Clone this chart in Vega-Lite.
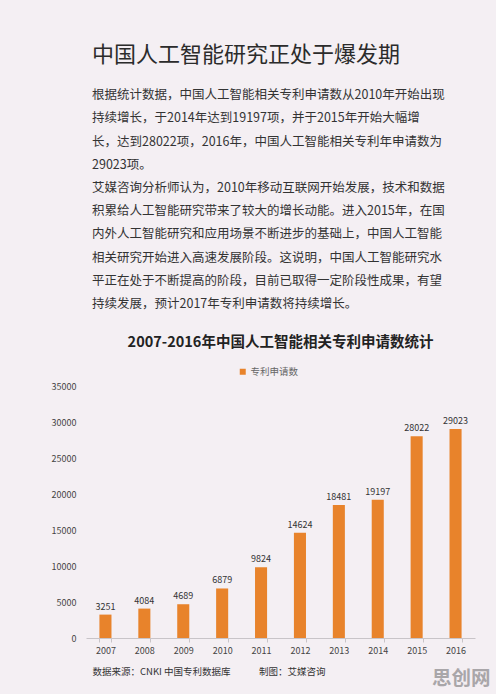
{
  "$schema": "https://vega.github.io/schema/vega-lite/v6.json",
  "background": "#f4eff3",
  "padding": {"left": 51, "top": 44, "right": 6, "bottom": 8},
  "config": {
    "font": "Noto Sans CJK SC",
    "view": {"stroke": null}
  },
  "title": {
    "text": "中国人工智能研究正处于爆发期",
    "subtitle": [
      "根据统计数据，中国人工智能相关专利申请数从2010年开始出现",
      "持续增长，于2014年达到19197项，并于2015年开始大幅增",
      "长，达到28022项，2016年，中国人工智能相关专利年申请数为",
      "29023项。",
      "艾媒咨询分析师认为，2010年移动互联网开始发展，技术和数据",
      "积累给人工智能研究带来了较大的增长动能。进入2015年，在国",
      "内外人工智能研究和应用场景不断进步的基础上，中国人工智能",
      "相关研究开始进入高速发展阶段。这说明，中国人工智能研究水",
      "平正在处于不断提高的阶段，目前已取得一定阶段性成果，有望",
      "持续发展，预计2017年专利申请数将持续增长。"
    ],
    "anchor": "start",
    "frame": "bounds",
    "dx": 41,
    "font": "Noto Sans CJK SC",
    "fontSize": 22,
    "fontWeight": "normal",
    "color": "#2b2b2b",
    "subtitleFont": "Noto Sans CJK SC",
    "subtitleFontSize": 12.5,
    "subtitleColor": "#333333",
    "subtitleLineHeight": 23.2,
    "subtitlePadding": 22,
    "offset": 23
  },
  "vconcat": [
    {
      "title": {
        "text": "思创网",
        "orient": "bottom",
        "anchor": "start",
        "frame": "bounds",
        "dx": 381,
        "offset": -6,
        "font": "Noto Sans CJK SC",
        "fontSize": 19.5,
        "fontWeight": "bold",
        "color": "#a9a6a9"
      },
      "vconcat": [
        {
          "title": {
            "text": "2007-2016年中国人工智能相关专利申请数统计",
            "font": "Noto Sans CJK SC",
            "fontSize": 14.5,
            "fontWeight": "bold",
            "color": "#222222",
            "anchor": "middle",
            "offset": 32
          },
          "width": 389,
          "height": 252,
          "data": {
            "values": [
              {"year": "2007", "count": 3251},
              {"year": "2008", "count": 4084},
              {"year": "2009", "count": 4689},
              {"year": "2010", "count": 6879},
              {"year": "2011", "count": 9824},
              {"year": "2012", "count": 14624},
              {"year": "2013", "count": 18481},
              {"year": "2014", "count": 19197},
              {"year": "2015", "count": 28022},
              {"year": "2016", "count": 29023}
            ]
          },
          "encoding": {
            "x": {
              "field": "year",
              "type": "ordinal",
              "scale": {"paddingInner": 0.69, "paddingOuter": 0.345},
              "axis": {
                "labelAngle": 0,
                "labelFontSize": 9,
                "labelColor": "#444444",
                "labelPadding": 4,
                "domainColor": "#c8c4c8",
                "tickColor": "#c8c4c8",
                "tickSize": 4,
                "tickBand": "extent",
                "title": "数据来源：CNKI 中国专利数据库　　　制图：艾媒咨询",
                "titleFontSize": 9.5,
                "titleFontWeight": "normal",
                "titleColor": "#333333",
                "titleAnchor": "start",
                "titleAlign": "left",
                "titleX": 6,
                "titleY": 33,
                "titleBaseline": "middle"
              }
            },
            "y": {
              "field": "count",
              "type": "quantitative",
              "scale": {"domain": [0, 35000]},
              "axis": {
                "values": [0, 5000, 10000, 15000, 20000, 25000, 30000, 35000],
                "format": "d",
                "grid": false,
                "domain": false,
                "ticks": false,
                "labelPadding": 10,
                "labelFontSize": 9,
                "labelColor": "#444444",
                "title": null
              }
            }
          },
          "layer": [
            {
              "mark": {"type": "bar", "color": "#E8832B"},
              "encoding": {
                "color": {
                  "datum": "专利申请数",
                  "scale": {"range": ["#E8832B"]},
                  "legend": {
                    "title": null,
                    "orient": "none",
                    "legendX": 152,
                    "legendY": -19,
                    "direction": "horizontal",
                    "symbolType": "square",
                    "symbolSize": 36,
                    "labelFontSize": 9.5,
                    "labelColor": "#666666",
                    "labelOffset": 3
                  }
                }
              }
            },
            {
              "mark": {"type": "text", "dy": -8, "fontSize": 9, "color": "#333333"},
              "encoding": {"text": {"field": "count", "type": "quantitative", "format": "d"}}
            }
          ]
        }
      ]
    }
  ]
}
